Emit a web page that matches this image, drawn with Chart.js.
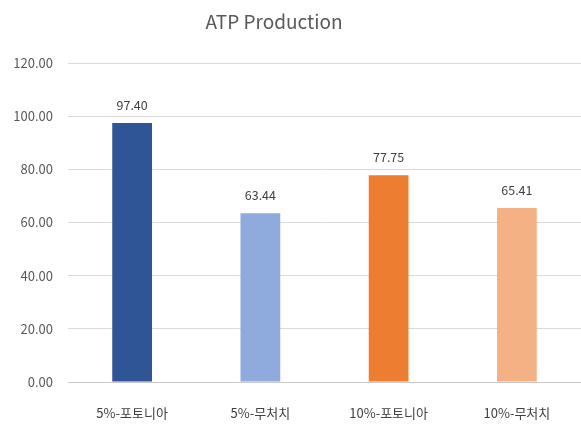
<!DOCTYPE html>
<html>
<head>
<meta charset="utf-8">
<script src="https://cdn.jsdelivr.net/npm/chart.js@4/dist/chart.umd.min.js"></script>
<style>
  html, body { margin: 0; padding: 0; background: #fff; }
  #wrap { width: 581px; height: 427px; }
</style>
</head>
<body>
<div id="wrap"><canvas id="atpChart" width="581" height="427"></canvas></div>
<script>
const chartTitle = "ATP Production";
const labels = ["5%-포토니아", "5%-무처치", "10%-포토니아", "10%-무처치"];
const atpValues = [97.40, 63.44, 77.75, 65.41];
const barColors = ["#2F5597", "#8FAADC", "#ED7D31", "#F4B183"];
const yTicks = [0, 20, 40, 60, 80, 100, 120];

const fontFamily = "'Noto Sans CJK KR', 'Noto Sans', sans-serif";

// title sits a bit left of the canvas centre, so it is drawn by hand
const titleText = {
  id: "titleText",
  afterDraw(chart) {
    const ctx = chart.ctx;
    ctx.save();
    ctx.fillStyle = "#595959";
    ctx.font = "19px " + fontFamily;
    ctx.textAlign = "center";
    ctx.textBaseline = "middle";
    ctx.fillText(chartTitle, 274, 22);
    ctx.restore();
  }
};

// writes each bar's value just above it
const valueLabels = {
  id: "valueLabels",
  afterDatasetsDraw(chart) {
    const ctx = chart.ctx;
    const meta = chart.getDatasetMeta(0);
    ctx.save();
    ctx.fillStyle = "#404040";
    ctx.font = "12.5px " + fontFamily;
    ctx.textAlign = "center";
    ctx.textBaseline = "middle";
    meta.data.forEach(function (bar, i) {
      ctx.fillText(atpValues[i].toFixed(2), bar.x, bar.y - 18);
    });
    ctx.restore();
  }
};

const chartAtp = new Chart(document.getElementById("atpChart").getContext("2d"), {
  type: "bar",
  data: {
    labels: labels,
    datasets: [
      {
        data: atpValues,
        backgroundColor: barColors,
        borderWidth: 0,
        categoryPercentage: 1.0,
        barPercentage: 0.31,
      },
    ],
  },
  options: {
    responsive: false,
    animation: false,
    layout: { padding: { left: 2, right: 0, top: 63, bottom: 6 } },
    plugins: {
      legend: { display: false },
      tooltip: { enabled: false },
      title: { display: false },
    },
    scales: {
      x: {
        grid: { display: false },
        border: { color: "#c8c8c8" },
        afterFit(axis) {
          axis.height = 39;
        },
        ticks: {
          color: "#404040",
          font: { family: fontFamily, size: 13 },
          padding: 15,
          maxRotation: 0,
        },
      },
      y: {
        min: 0,
        max: 120,
        afterBuildTicks(axis) {
          axis.ticks = yTicks.map(function (v) { return { value: v }; });
        },
        afterFit(axis) {
          axis.width = 66;
        },
        grid: { color: "#d9d9d9", drawTicks: false },
        border: { display: false },
        ticks: {
          color: "#595959",
          font: { family: fontFamily, size: 13 },
          padding: 15,
          callback: function (v) { return Number(v).toFixed(2); },
        },
      },
    },
  },
  plugins: [valueLabels, titleText],
});
</script>
</body>
</html>
